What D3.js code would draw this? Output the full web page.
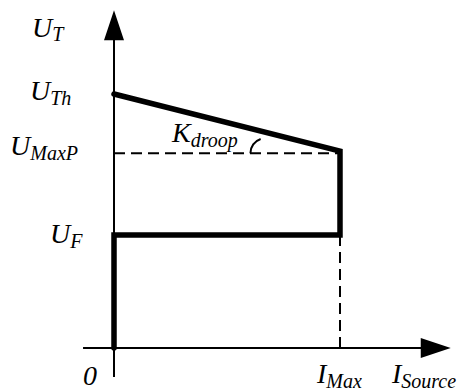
<!DOCTYPE html>
<html>
<head>
<meta charset="utf-8">
<script src="https://cdn.jsdelivr.net/npm/d3@7"></script>
<style>
  html, body { margin: 0; padding: 0; background: #fff; }
</style>
</head>
<body>
<svg id="chart" width="458" height="391"></svg>
<script>
// characteristic points (normalised: I_Max = 1, U_Th = 1)
const curveI = [0, 0, 1, 1, 0]
const curveU = [0, 0.445, 0.445, 0.775, 1]
const levelU = { F: 0.445, MaxP: 0.775, Th: 1 }
const axisI = [-0.137, 1.49]
const axisU = [-0.114, 1.33]

const svg = d3.select('#chart')
const x = d3.scaleLinear().domain([0, 1]).range([114, 340])
const y = d3.scaleLinear().domain([0, 1]).range([348, 94])

// axes
svg.append('line')
  .attr('x1', x(axisI[0])).attr('x2', x(axisI[1]) - 20)
  .attr('y1', y(0)).attr('y2', y(0))
  .attr('stroke', '#000').attr('stroke-width', 2)
svg.append('line')
  .attr('x1', x(0)).attr('x2', x(0))
  .attr('y1', y(axisU[0])).attr('y2', y(axisU[1]) + 20)
  .attr('stroke', '#000').attr('stroke-width', 2)

// arrow heads
const xt = x(axisI[1]), yt = y(axisU[1])
svg.append('path')
  .attr('d', `M${xt},${y(0)}L${xt - 30},${y(0) - 10}L${xt - 30},${y(0) + 10}Z`)
  .attr('fill', '#000')
svg.append('path')
  .attr('d', `M${x(0)},${yt}L${x(0) - 10},${yt + 30}L${x(0) + 10},${yt + 30}Z`)
  .attr('fill', '#000')

// dashed guides
svg.append('line')
  .attr('x1', x(0)).attr('x2', x(1))
  .attr('y1', y(levelU.MaxP) + 2).attr('y2', y(levelU.MaxP) + 2)
  .attr('stroke', '#000').attr('stroke-width', 2)
  .attr('stroke-dasharray', '11,6')
svg.append('line')
  .attr('x1', x(1)).attr('x2', x(1))
  .attr('y1', y(levelU.F)).attr('y2', y(0))
  .attr('stroke', '#000').attr('stroke-width', 2)
  .attr('stroke-dasharray', '11,6')

// the characteristic
const line = d3.line().x(d => x(d[0])).y(d => y(d[1]))
svg.append('path')
  .datum(d3.zip(curveI, curveU))
  .attr('d', line)
  .attr('fill', 'none')
  .attr('stroke', '#000')
  .attr('stroke-width', 5.5)
  .attr('stroke-linejoin', 'miter')
  .attr('stroke-linecap', 'round')

// droop angle mark
const p = d3.path()
p.arc(x(0.67), y(levelU.MaxP) + 2, 15, Math.PI, 4 * Math.PI / 3 + 0.2)
svg.append('path')
  .attr('d', p.toString())
  .attr('fill', 'none')
  .attr('stroke', '#000')
  .attr('stroke-width', 2)

// labels
const label = (main, sub, lx, ly, dy = 5) => {
  const t = svg.append('text')
    .attr('x', lx).attr('y', ly)
    .attr('font-family', 'Liberation Serif, Times New Roman, serif')
    .attr('font-style', 'italic')
    .attr('font-size', 28)
  t.append('tspan').text(main)
  if (sub) t.append('tspan').attr('font-size', 20).attr('dy', dy).text(sub)
}
label('U', 'T', 32, yt + 27, 4)
label('U', 'Th', 30, y(levelU.Th) + 6)
label('U', 'MaxP', 10, y(levelU.MaxP) + 4)
label('U', 'F', 50, y(levelU.F) + 8)
label('K', 'droop', 172, y(levelU.MaxP) - 9)
label('0', null, 83, y(0) + 37)
label('I', 'Max', 317, y(0) + 35)
label('I', 'Source', 392, y(0) + 35)
</script>
</body>
</html>
